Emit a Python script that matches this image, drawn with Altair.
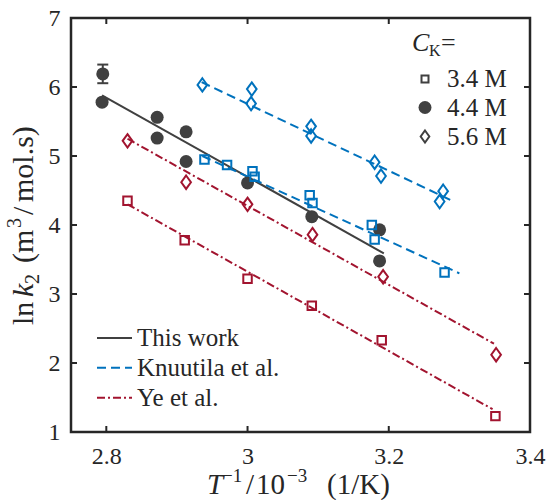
import altair as alt
import pandas as pd

# x: 1/T in 10^-3 1/K, y: ln k2 in m^3/(mol s)

# This work, C_K = 4.4 M (filled circles)
this_x = [2.795, 2.794, 2.872, 2.872, 2.913, 2.913, 3.000, 3.091, 3.187, 3.187]
this_y = [6.19, 5.78, 5.56, 5.26, 5.35, 4.92, 4.61, 4.12, 3.93, 3.48]
err_x = [2.795]
err_y = [6.19]
err_half = [0.135]

# Knuutila et al., 3.4 M (squares) and 5.6 M (diamonds)
kn34_x = [2.939, 2.971, 3.007, 3.010, 3.088, 3.092, 3.176, 3.180, 3.279]
kn34_y = [4.95, 4.87, 4.78, 4.70, 4.43, 4.32, 4.00, 3.79, 3.31]
kn56_x = [2.936, 3.006, 3.005, 3.090, 3.090, 3.180, 3.189, 3.277, 3.272]
kn56_y = [6.03, 5.97, 5.76, 5.43, 5.29, 4.91, 4.71, 4.49, 4.34]

# Ye et al., 3.4 M (squares) and 5.6 M (diamonds)
ye34_x = [2.830, 2.911, 3.000, 3.091, 3.190, 3.351]
ye34_y = [4.35, 3.78, 3.22, 2.83, 2.33, 1.23]
ye56_x = [2.830, 2.913, 3.000, 3.092, 3.192, 3.352]
ye56_y = [5.22, 4.62, 4.30, 3.86, 3.25, 2.12]

# Arrhenius fit lines (end points)
fit_this_x, fit_this_y = [2.794, 3.193], [5.88, 3.59]
fit_kn34_x, fit_kn34_y = [2.936, 3.300], [5.00, 3.30]
fit_kn56_x, fit_kn56_y = [2.935, 3.288], [6.07, 4.36]
fit_ye34_x, fit_ye34_y = [2.830, 3.347], [4.30, 1.33]
fit_ye56_x, fit_ye56_y = [2.830, 3.349], [5.25, 2.28]

x_ticks = [2.8, 3.0, 3.2, 3.4]
y_ticks = [1, 2, 3, 4, 5, 6, 7]

DARK = "#404040"
BLUE = "#0072BD"
RED = "#A2142F"
AX = "#262626"
FONT = "Liberation Serif"
W, H = 459, 414
DIAMOND = "M0,-1L0.72,0L0,1L-0.72,0Z"

xs = alt.Scale(domain=[2.75, 3.4], nice=False, zero=False)
ys = alt.Scale(domain=[1, 7], nice=False, zero=False)


def frame(xv, yv):
    return pd.DataFrame({"x": xv, "y": yv})


X = alt.X("x:Q", scale=xs, axis=alt.Axis(values=x_ticks, format="~g", title=None, grid=False,
                                        ticks=False, tickSize=0, domain=False, labelFont=FONT,
                                        labelFontSize=24, labelColor=AX, labelPadding=12,
                                        labelFlush=False, labelOverlap=False))
Y = alt.Y("y:Q", scale=ys, axis=alt.Axis(values=y_ticks, format="d", title=None, grid=False,
                                        ticks=False, tickSize=0, domain=False, labelFont=FONT,
                                        labelFontSize=24, labelColor=AX, labelPadding=11,
                                        labelFlush=False, labelOverlap=False))
Xp = alt.X("x:Q", scale=xs)
Yp = alt.Y("y:Q", scale=ys)


def fit(xv, yv, color, dash):
    kw = dict(color=color, strokeWidth=2)
    if dash:
        kw["strokeDash"] = dash
    return alt.Chart(frame(xv, yv)).mark_line(**kw).encode(x=Xp, y=Yp)


def squares(xv, yv, color):
    return alt.Chart(frame(xv, yv)).mark_point(shape="square", filled=False, size=72,
                                               strokeWidth=2, color=color, opacity=1).encode(x=Xp, y=Yp)


def diamonds(xv, yv, color):
    return alt.Chart(frame(xv, yv)).mark_point(shape=DIAMOND, filled=False, size=180,
                                               strokeWidth=2, color=color, opacity=1).encode(x=Xp, y=Yp)


circles = alt.Chart(frame(this_x, this_y)).mark_circle(size=169, color=DARK, opacity=1).encode(x=X, y=Y)

err_df = pd.DataFrame({"x": err_x, "lo": [a - b for a, b in zip(err_y, err_half)],
                       "hi": [a + b for a, b in zip(err_y, err_half)]})
err_rule = alt.Chart(err_df).mark_rule(color=DARK, strokeWidth=2).encode(
    x=Xp, y=alt.Y("lo:Q", scale=ys), y2="hi:Q")
err_caps = alt.Chart(pd.DataFrame({"x": err_x * 2, "y": list(err_df["lo"]) + list(err_df["hi"])})).mark_tick(
    orient="horizontal", size=11, thickness=2, color=DARK, opacity=1).encode(x=Xp, y=Yp)

# inward ticks on all four sides of the frame
xt = pd.DataFrame({"x": x_ticks})
yt = pd.DataFrame({"y": y_ticks})
tick_layers = [
    alt.Chart(xt).mark_rule(color=AX, strokeWidth=2).encode(x=Xp, y=alt.value(H), y2=alt.value(H - 6)),
    alt.Chart(xt).mark_rule(color=AX, strokeWidth=2).encode(x=Xp, y=alt.value(0), y2=alt.value(6)),
    alt.Chart(yt).mark_rule(color=AX, strokeWidth=2).encode(y=Yp, x=alt.value(0), x2=alt.value(6)),
    alt.Chart(yt).mark_rule(color=AX, strokeWidth=2).encode(y=Yp, x=alt.value(W), x2=alt.value(W - 6)),
]


def txt(s, px, py, size=24, style="normal", angle=0, align="left", baseline="alphabetic", color=AX):
    return alt.Chart(pd.DataFrame({"t": [s], "px": [px], "py": [py]})).mark_text(
        font=FONT, fontSize=size, fontStyle=style, angle=angle, align=align, baseline=baseline,
        color=color).encode(x=alt.X("px:Q", scale=None), y=alt.Y("py:Q", scale=None), text="t:N")


# concentration legend (top right)
conc_labels = ["3.4 M", "4.4 M", "5.6 M"]
leg_rows = [61, 89.5, 118.5]
lx = 354
conc_legend = [
    txt("C", 341, 33, size=26, style="italic"),
    txt("K", 358, 38, size=16),
    txt("=", 370, 33, size=26),
    alt.Chart(pd.DataFrame({"px": [lx], "py": [leg_rows[0]]})).mark_point(
        shape="square", filled=False, size=49, strokeWidth=2, color=DARK, opacity=1).encode(
        x=alt.X("px:Q", scale=None), y=alt.Y("py:Q", scale=None)),
    alt.Chart(pd.DataFrame({"px": [lx], "py": [leg_rows[1]]})).mark_circle(
        size=169, color=DARK, opacity=1).encode(x=alt.X("px:Q", scale=None), y=alt.Y("py:Q", scale=None)),
    alt.Chart(pd.DataFrame({"px": [lx], "py": [leg_rows[2]]})).mark_point(
        shape=DIAMOND, filled=False, size=144, strokeWidth=2, color=DARK, opacity=1).encode(
        x=alt.X("px:Q", scale=None), y=alt.Y("py:Q", scale=None)),
] + [txt(lab, 376, r, size=25, baseline="middle") for lab, r in zip(conc_labels, leg_rows)]

# source legend (bottom left)
src_labels = ["This work", "Knuutila et al.", "Ye et al."]
src_colors = [DARK, BLUE, RED]
src_dash = [None, [9, 5], [8, 3, 2, 3]]
src_rows = [320, 349.7, 379.7]
src_legend = []
for lab, col, dash, r in zip(src_labels, src_colors, src_dash, src_rows):
    kw = dict(color=col, strokeWidth=2)
    if dash:
        kw["strokeDash"] = dash
    src_legend.append(alt.Chart(pd.DataFrame({"a": [0]})).mark_rule(**kw).encode(
        x=alt.value(26), x2=alt.value(61), y=alt.value(r)))
    src_legend.append(txt(lab, 66, r, size=25, baseline="middle"))

# axis titles
XB = 476
x_title = [
    txt("T", 136, XB, size=29, style="italic"),
    txt("\u22121", 151, XB - 12, size=19),
    txt("/", 175, XB, size=29),
    txt("10", 185, XB, size=29),
    txt("\u22123", 216, XB - 12, size=19),
    txt("(1/K)", 256, XB, size=29),
]
YB = -38
y_title = [
    txt("ln", YB, 307, size=30, angle=270),
    txt("k", YB, 279, size=30, style="italic", angle=270),
    txt("2", YB + 6, 266, size=20, angle=270),
    txt("(m", YB, 245, size=30, angle=270),
    txt("3", YB - 12, 210, size=20, angle=270),
    txt("/", YB, 197, size=30, angle=270),
    txt("mol.s)", YB, 184, size=30, angle=270),
]

layers = [
    fit(fit_this_x, fit_this_y, DARK, None),
    fit(fit_kn34_x, fit_kn34_y, BLUE, [9, 5]),
    fit(fit_kn56_x, fit_kn56_y, BLUE, [9, 5]),
    fit(fit_ye34_x, fit_ye34_y, RED, [8, 3, 2, 3]),
    fit(fit_ye56_x, fit_ye56_y, RED, [8, 3, 2, 3]),
    circles,
    err_rule,
    err_caps,
    squares(kn34_x, kn34_y, BLUE),
    diamonds(kn56_x, kn56_y, BLUE),
    squares(ye34_x, ye34_y, RED),
    diamonds(ye56_x, ye56_y, RED),
] + tick_layers + conc_legend + src_legend + x_title + y_title

chart = alt.layer(*layers).properties(
    width=W, height=H,
    autosize=alt.AutoSizeParams(type="none"),
    padding={"left": 71, "top": 18, "right": 17, "bottom": 68},
    background="white",
).configure_view(stroke=AX, strokeWidth=2.5)

chart.save("out.html", embed_options={"renderer": "svg", "actions": False})
